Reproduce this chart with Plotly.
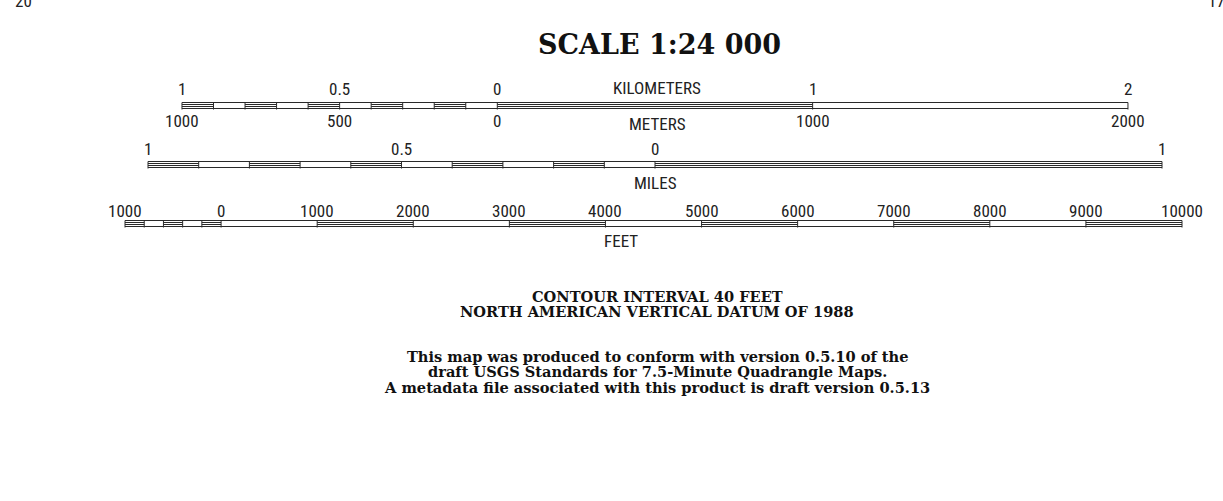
import plotly.graph_objects as go

# ---------------- data ----------------
km_bounds = [-1.0, -0.9, -0.8, -0.7, -0.6, -0.5, -0.4, -0.3, -0.2, -0.1, 0.0, 1.0, 2.0]
km_double = [True, False, True, False, True, False, True, False, True, False, True, False]
km_label_pos = [-1.0, -0.5, 0.0, 1.0, 2.0]
km_labels = ["1", "0.5", "0", "1", "2"]
m_labels = ["1000", "500", "0", "1000", "2000"]

mi_bounds = [-1.0, -0.9, -0.8, -0.7, -0.6, -0.5, -0.4, -0.3, -0.2, -0.1, 0.0, 1.0]
mi_double = [True, False, True, False, True, False, True, False, True, False, True]
mi_label_pos = [-1.0, -0.5, 0.0, 1.0]
mi_labels = ["1", "0.5", "0", "1"]

ft_bounds = [-1000, -800, -600, -400, -200, 0, 1000, 2000, 3000, 4000, 5000,
             6000, 7000, 8000, 9000, 10000]
ft_double = [True, False, True, False, True, False, True, False, True, False,
             True, False, True, False, True]
ft_label_pos = [-1000, 0, 1000, 2000, 3000, 4000, 5000, 6000, 7000, 8000, 9000, 10000]
ft_labels = ["1000", "0", "1000", "2000", "3000", "4000", "5000", "6000",
             "7000", "8000", "9000", "10000"]

title_text = "SCALE 1:24 000"
contour_lines = ["CONTOUR INTERVAL 40 FEET", "NORTH AMERICAN VERTICAL DATUM OF 1988"]
note_lines = ["This map was produced to conform with version 0.5.10 of the",
              "draft USGS Standards for 7.5-Minute Quadrangle Maps.",
              "A metadata file associated with this product is draft version 0.5.13"]
corner_left = "20"
corner_right = "17"

# ---------------- layout constants ----------------
W, H = 1223, 501
LINE = "#2a2a2a"
SANS = "Roboto Condensed, DejaVu Sans Condensed, sans-serif"
SERIF = "DejaVu Serif, serif"

fig = go.Figure()


def bar_traces(bounds, double, top, xaxis, h=6):
    bot = top + h
    xs, ys = [], []
    xs += [bounds[0], bounds[-1], None, bounds[0], bounds[-1], None]
    ys += [top, top, None, bot, bot, None]
    for b in bounds:
        xs += [b, b, None]
        ys += [top, bot + 1, None]
    for i, d in enumerate(double):
        if d:
            for yy in (top + 2, top + 4):
                xs += [bounds[i], bounds[i + 1], None]
                ys += [yy, yy, None]
    fig.add_trace(go.Scatter(x=xs, y=ys, mode="lines", xaxis=xaxis, yaxis="y",
                             line=dict(color=LINE, width=1), hoverinfo="skip",
                             showlegend=False))


KM_TOP, MI_TOP, FT_TOP = 102.5, 161.5, 220.5
bar_traces(km_bounds, km_double, KM_TOP, "x")
bar_traces(mi_bounds, mi_double, MI_TOP, "x2")
bar_traces(ft_bounds, ft_double, FT_TOP, "x3")

ann = []


def lab(x, y, text, xref, size=17, family=SANS, color="#222", xanchor="center"):
    ann.append(dict(x=x, y=y, xref=xref, yref="y", text=text, showarrow=False,
                    xanchor=xanchor, yanchor="middle", borderpad=0,
                    font=dict(family=family, size=size, color=color)))


for p, t in zip(km_label_pos, km_labels):
    lab(p, 89, t, "x")
for p, t in zip(km_label_pos, m_labels):
    lab(p, 121, t, "x")
for p, t in zip(mi_label_pos, mi_labels):
    lab(p, 149, t, "x2")
for p, t in zip(ft_label_pos, ft_labels):
    lab(p, 211, t, "x3")

lab(657 / W, 88, "KILOMETERS", "paper")
lab(657 / W, 124, "METERS", "paper")
lab(655 / W, 183, "MILES", "paper")
lab(621 / W, 241, "FEET", "paper")

lab(659 / W, 44, "<b>%s</b>" % title_text, "paper", size=27, family=SERIF, color="#111")
for i, t in enumerate(contour_lines):
    lab(657 / W, 296 + 15 * i, "<b>%s</b>" % t, "paper", size=14.6, family=SERIF, color="#111")
for i, t in enumerate(note_lines):
    lab(657 / W, 356 + 15.6 * i, "<b>%s</b>" % t, "paper", size=14.6, family=SERIF, color="#111")

lab(23 / W, 1, corner_left, "paper", size=17)
lab(1216 / W, 1, corner_right, "paper", size=17)

# axis ranges: km 0 at px 497.3 (315.33 px/km); mile 0 at px 655 (507 px/mi);
# ft 0 at px 221.09 (0.096091 px/ft)
km_range = [-497.3 / 315.33, (W - 497.3) / 315.33]
mi_range = [-655 / 507.0, (W - 655) / 507.0]
ft_range = [-221.09 / 0.096091, (W - 221.09) / 0.096091]

hidden = dict(visible=False, showgrid=False, zeroline=False, fixedrange=True)
fig.update_layout(
    width=W, height=H,
    margin=dict(l=0, r=0, t=0, b=0),
    paper_bgcolor="white", plot_bgcolor="white",
    xaxis=dict(range=km_range, domain=[0, 1], **hidden),
    xaxis2=dict(range=mi_range, domain=[0, 1], overlaying="x", **hidden),
    xaxis3=dict(range=ft_range, domain=[0, 1], overlaying="x", **hidden),
    yaxis=dict(range=[H, 0], domain=[0, 1], **hidden),
    annotations=ann,
    showlegend=False,
)

fig.write_html("out.html", config={"displayModeBar": False},
               post_script="document.body.style.margin='0';document.body.style.padding='0';")
